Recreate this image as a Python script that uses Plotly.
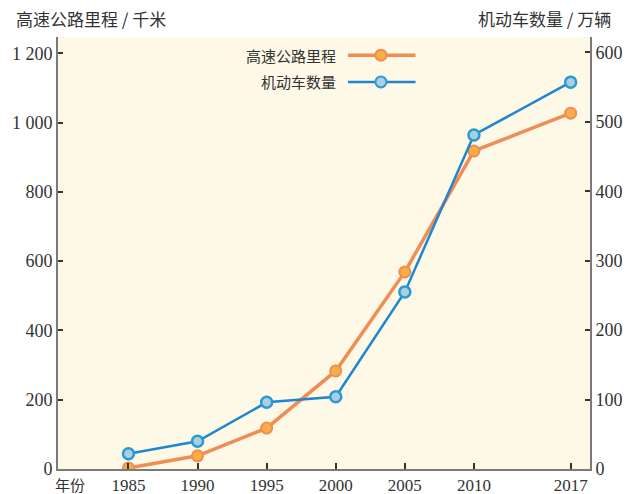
import plotly.graph_objects as go

# data
years = [1985, 1990, 1995, 2000, 2005, 2010, 2017]
highway_km = [3, 38, 118, 283, 569, 918, 1027]  # 千米 (left axis)
vehicles = [22, 40, 96, 104, 255, 481, 557]  # 万辆 (right axis)

left_ticks = [0, 200, 400, 600, 800, 1000, 1200]
right_ticks = [0, 100, 200, 300, 400, 500, 600]

ORANGE = "#F28C55"
ORANGE_FILL = "#F7AE45"
BLUE = "#1F86CF"
BLUE_FILL = "#A9CFE0"
CJK = "Noto Sans CJK SC"
SERIF = "Liberation Serif"

fig = go.Figure()

fig.add_trace(
    go.Scatter(
        x=years,
        y=highway_km,
        mode="lines+markers",
        name="高速公路里程",
        line={"color": ORANGE, "width": 3.5},
        marker={"size": 11, "color": ORANGE_FILL, "line": {"color": ORANGE, "width": 2}},
        yaxis="y",
    )
)

fig.add_trace(
    go.Scatter(
        x=years,
        y=vehicles,
        mode="lines+markers",
        name="机动车数量",
        line={"color": BLUE, "width": 2.5},
        marker={"size": 11, "color": BLUE_FILL, "line": {"color": "#2A9AD3", "width": 2.5}},
        yaxis="y2",
    )
)

axis_common = dict(
    showgrid=False,
    zeroline=False,
    showline=True,
    automargin=False,
    linecolor="#7a7a7a",
    linewidth=2,
    ticks="inside",
    ticklen=5,
    tickwidth=2,
    tickcolor="#333333",
    tickfont={"family": SERIF, "size": 18, "color": "#333333"},
)

fig.update_layout(
    width=626,
    height=494,
    margin={"l": 58, "r": 36, "t": 37, "b": 25, "autoexpand": False},
    paper_bgcolor="white",
    plot_bgcolor="#FDF9E6",
    showlegend=False,
    separators=". ",
    xaxis=dict(
        axis_common,
        range=[1979.9, 2018.4],
        tickvals=years,
        ticklen=6,
        ticklabelstandoff=0,
        tickfont={"family": SERIF, "size": 17, "color": "#333333"},
    ),
    yaxis=dict(
        axis_common,
        range=[0, 1247],
        tickvals=left_ticks,
        tickformat=",d",
    ),
    yaxis2=dict(
        axis_common,
        overlaying="y",
        side="right",
        range=[0, 622],
        tickvals=right_ticks,
    ),
)

# axis titles
fig.add_annotation(
    text="高速公路里程 / 千米", xref="paper", yref="paper", x=-0.083, y=1.0,
    xanchor="left", yanchor="bottom", yshift=4, showarrow=False,
    font={"family": CJK, "size": 17, "color": "#333333"},
)
fig.add_annotation(
    text="机动车数量 / 万辆", xref="paper", yref="paper", x=1.044, y=1.0,
    xanchor="right", yanchor="bottom", yshift=4, showarrow=False,
    font={"family": CJK, "size": 17, "color": "#333333"},
)
fig.add_annotation(
    text="年份", xref="paper", yref="paper", x=-0.008, y=0,
    xanchor="left", yanchor="middle", yshift=-15, showarrow=False,
    font={"family": CJK, "size": 15, "color": "#333333"},
    borderpad=0,
)

# legend drawn by hand: text on the left, line+marker on the right
legend_rows = [
    ("高速公路里程", 0.958, ORANGE, ORANGE_FILL, ORANGE, 3.5),
    ("机动车数量", 0.896, BLUE, BLUE_FILL, "#2A9AD3", 2.5),
]
for label, ly, lc, fill, edge, lw in legend_rows:
    fig.add_annotation(
        text=label, xref="paper", yref="paper", x=0.527, y=ly,
        xanchor="right", yanchor="middle", showarrow=False,
        font={"family": CJK, "size": 15, "color": "#333333"},
    )
    fig.add_shape(
        type="line", xref="paper", yref="paper", x0=0.545, x1=0.672, y0=ly, y1=ly,
        line={"color": lc, "width": lw},
    )
    fig.add_shape(
        type="circle", xref="paper", yref="paper",
        xsizemode="pixel", ysizemode="pixel", xanchor=0.607, yanchor=ly,
        x0=-5.5, x1=5.5, y0=-5.5, y1=5.5,
        fillcolor=fill, line={"color": edge, "width": 2},
    )

# drop the default page margin so the figure sits at the window's top-left
fig.write_html(
    "out.html",
    config={"displayModeBar": False},
    post_script="document.body.style.margin='0';document.body.style.overflow='hidden';",
)
